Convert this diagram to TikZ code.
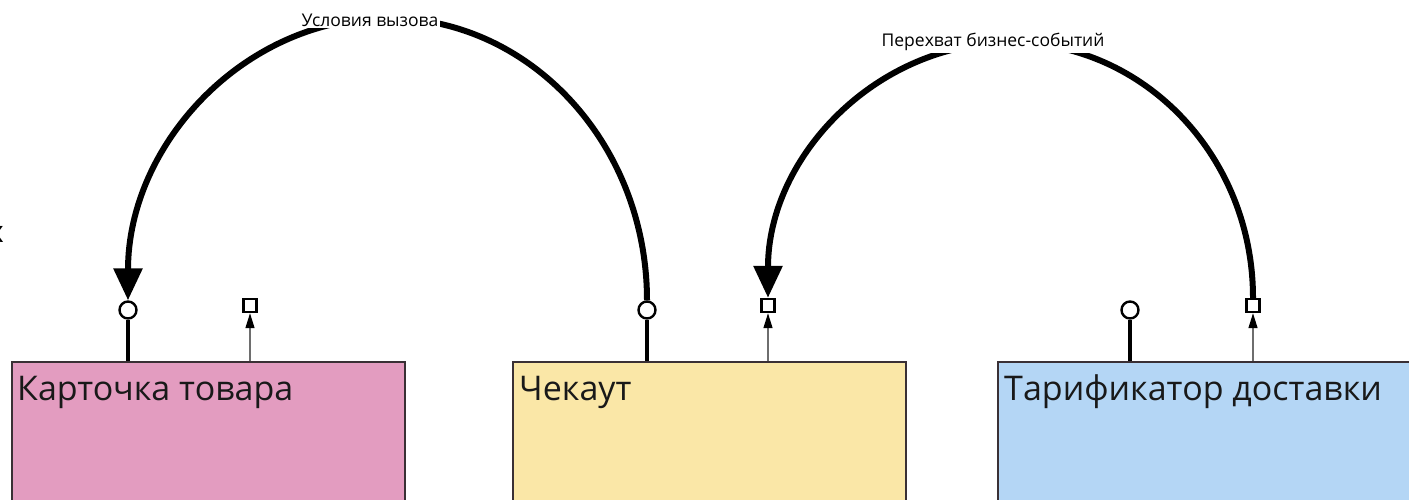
\documentclass[tikz,border=0pt]{standalone}
\usepackage{fontspec}
\setmainfont{Open Sans}
\usetikzlibrary{arrows.meta}

\definecolor{cardfill}{HTML}{E39CC0}
\definecolor{checkoutfill}{HTML}{FAE7A7}
\definecolor{tarifffill}{HTML}{B4D6F5}
\definecolor{boxline}{HTML}{3A3035}
\definecolor{thinline}{HTML}{6E6E6E}

\tikzset{
  service/.style={draw=boxline, line width=2pt, anchor=north west,
    minimum width=393pt, minimum height=180pt, inner sep=0pt},
  title/.style={anchor=base west, inner sep=0pt, text=black!90,
    font=\fontsize{34}{40}\selectfont},
  reqport/.style={circle, draw=black, fill=white, line width=2.4pt,
    minimum size=17pt, inner sep=0pt},
  evtport/.style={rectangle, draw=black, fill=white, line width=2.4pt,
    minimum size=13pt, inner sep=0pt},
  stem/.style={line width=4pt},
  emits/.style={draw=thinline, line width=1.4pt,
    -{Triangle[length=15pt,width=9pt,fill=black,color=black]}},
  call/.style={line width=6pt,
    -{Triangle[length=32pt,width=28pt]}},
  arclabel/.style={fill=white, inner sep=2pt,
    font=\fontsize{17.5}{21}\selectfont}
}

\begin{document}
\begin{tikzpicture}[x=1pt,y=-1pt]
\useasboundingbox (0,0) rectangle (1409,499);

% service boxes
\node[service, fill=cardfill] (card) at (11,361) {};
\node[service, fill=checkoutfill] (checkout) at (512,361) {};
\node[service, fill=tarifffill, minimum width=440pt] (tariff) at (997,361) {};

\node[title] (cardT) at (17,400) {Карточка товара};
\node[title] (checkoutT) at (519,400) {Чекаут};
\node[title] (tariffT) at (1004,400) {Тарификатор доставки};

% partially visible letter at the left edge
\node[inner sep=0pt, font=\fontsize{30}{36}\selectfont] (edge) at (-4,234) {х};

% ports: circles take calls, squares publish events
\node[reqport] (cardReq) at (128,310) {};
\node[evtport] (cardEvt) at (250,305.5) {};
\node[reqport] (checkoutReq) at (647,310) {};
\node[evtport] (checkoutEvt) at (768,305.5) {};
\node[reqport] (tariffReq) at (1130,310) {};
\node[evtport] (tariffEvt) at (1253,305.5) {};

\draw[stem] (cardReq.south) -- (cardReq.south |- card.north);
\draw[stem] (checkoutReq.south) -- (checkoutReq.south |- checkout.north);
\draw[stem] (tariffReq.south) -- (tariffReq.south |- tariff.north);

\draw[emits] (cardEvt.south |- card.north) -- (cardEvt.south);
\draw[emits] (checkoutEvt.south |- checkout.north) -- (checkoutEvt.south);
\draw[emits] (tariffEvt.south |- tariff.north) -- (tariffEvt.south);

% call condition: checkout -> product card
\coordinate (top1) at (387.5,18);
\draw[call] (checkoutReq.north)
  .. controls +(0,-156) and +(143,0) .. (top1)
  .. controls +(-143,0) and +(0,-156) .. (cardReq.north);
\node[arclabel] (lbl1) at (370,20) {Условия вызова};

% business event interception: tariff -> checkout
\coordinate (top2) at (1010.5,42.5);
\draw[call] (tariffEvt.north)
  .. controls +(0,-141) and +(134,0) .. (top2)
  .. controls +(-134,0) and +(0,-141) .. (checkoutEvt.north);
\node[arclabel] (lbl2) at (993,42) {Перехват бизнес-событий};
\end{tikzpicture}
\end{document}
